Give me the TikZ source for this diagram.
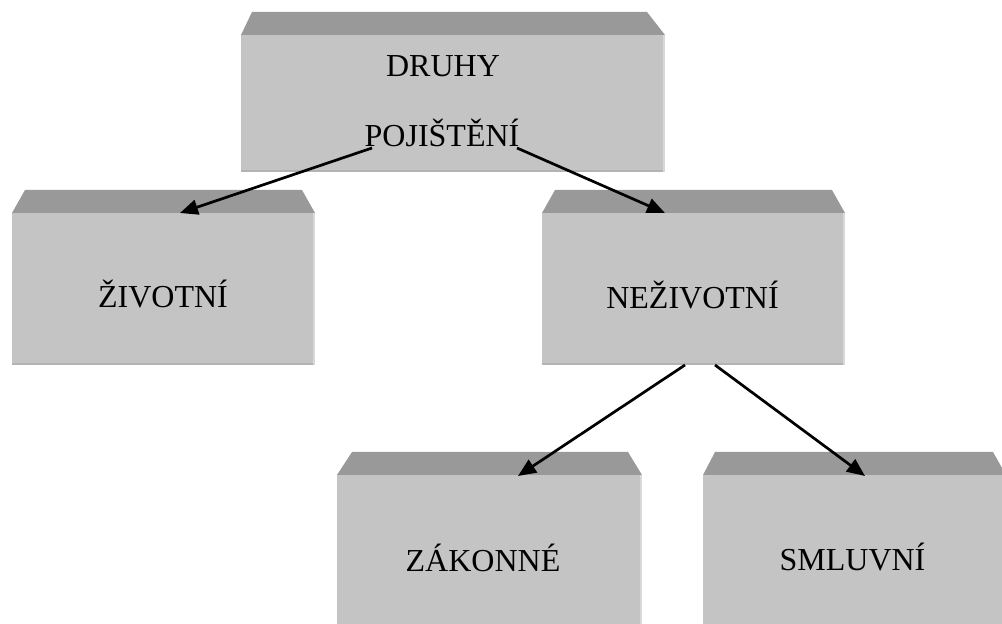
\documentclass[tikz,border=0pt]{standalone}
\usepackage{fontspec}
\setmainfont{Liberation Serif}
\usetikzlibrary{arrows.meta,calc}

\definecolor{facegray}{HTML}{C4C4C4}
\definecolor{bevelgray}{HTML}{999999}
\definecolor{rimlight}{HTML}{D8D8D8}
\definecolor{rimdark}{HTML}{B3B3B3}

\tikzset{
  face/.style={fill=facegray, draw=none, inner sep=0pt, outer sep=0pt},
  bevel/.style={fill=bevelgray, draw=none},
  lbl/.style={inner sep=0pt, outer sep=0pt, anchor=base,
    font=\fontsize{32}{36}\selectfont, text=black},
  link/.style={draw=black, line width=2.7pt,
    -{Triangle[length=18pt,width=15pt]}},
}

% a box face with bevelled top and thin rims
\newcommand{\boxbevel}[3]{%
  \fill[bevel] (#1.north west) -- ++(#2,23) -- ($(#1.north east)+(-#3,23)$) -- (#1.north east) -- cycle;
  \fill[rimdark] (#1.south west) rectangle ($(#1.south east)+(0,2)$);
  \fill[rimlight] ($(#1.north east)+(-2,0)$) rectangle (#1.south east);
}

\begin{document}
\begin{tikzpicture}[x=1pt,y=1pt]
\useasboundingbox (0,0) rectangle (1002,624);
\clip (0,0) rectangle (1002,624);

% faces
\node[face, minimum width=424pt, minimum height=137pt] (top) at (453,520.5) {};
\node[face, minimum width=303pt, minimum height=152pt] (ziv) at (163.5,335) {};
\node[face, minimum width=303pt, minimum height=152pt] (neziv) at (693.5,335) {};
\node[face, minimum width=305pt, minimum height=159pt] (zak) at (489.5,69.5) {};
\node[face, minimum width=303pt, minimum height=159pt] (smlu) at (854.5,69.5) {};

\boxbevel{top}{11}{18}
\boxbevel{ziv}{13}{13}
\boxbevel{neziv}{13}{13}
\boxbevel{zak}{15}{14}
\boxbevel{smlu}{12}{13}

% labels
\node[lbl] (druhy) at (443,547) {DRUHY};
\node[lbl] (pojisteni) at (442,477) {POJIŠTĚNÍ};
\node[lbl] (zivt) at (163,316) {ŽIVOTNÍ};
\node[lbl] (nezivt) at (692.5,315) {NEŽIVOTNÍ};
\node[lbl] (zakt) at (483,52) {ZÁKONNÉ};
\node[lbl] (smlut) at (852.5,53) {SMLUVNÍ};

% connector end points
\coordinate (p1) at (372,476);
\coordinate (p2) at (517,476);
\coordinate (z1) at (180,411);
\coordinate (n1) at (665,411);
\coordinate (q1) at (685,259);
\coordinate (q2) at (715,259);
\coordinate (k1) at (518,148);
\coordinate (s1) at (865,148);

% connectors
\draw[link] (p1) -- (z1);
\draw[link] (p2) -- (n1);
\draw[link] (q1) -- (k1);
\draw[link] (q2) -- (s1);
\end{tikzpicture}
\end{document}
